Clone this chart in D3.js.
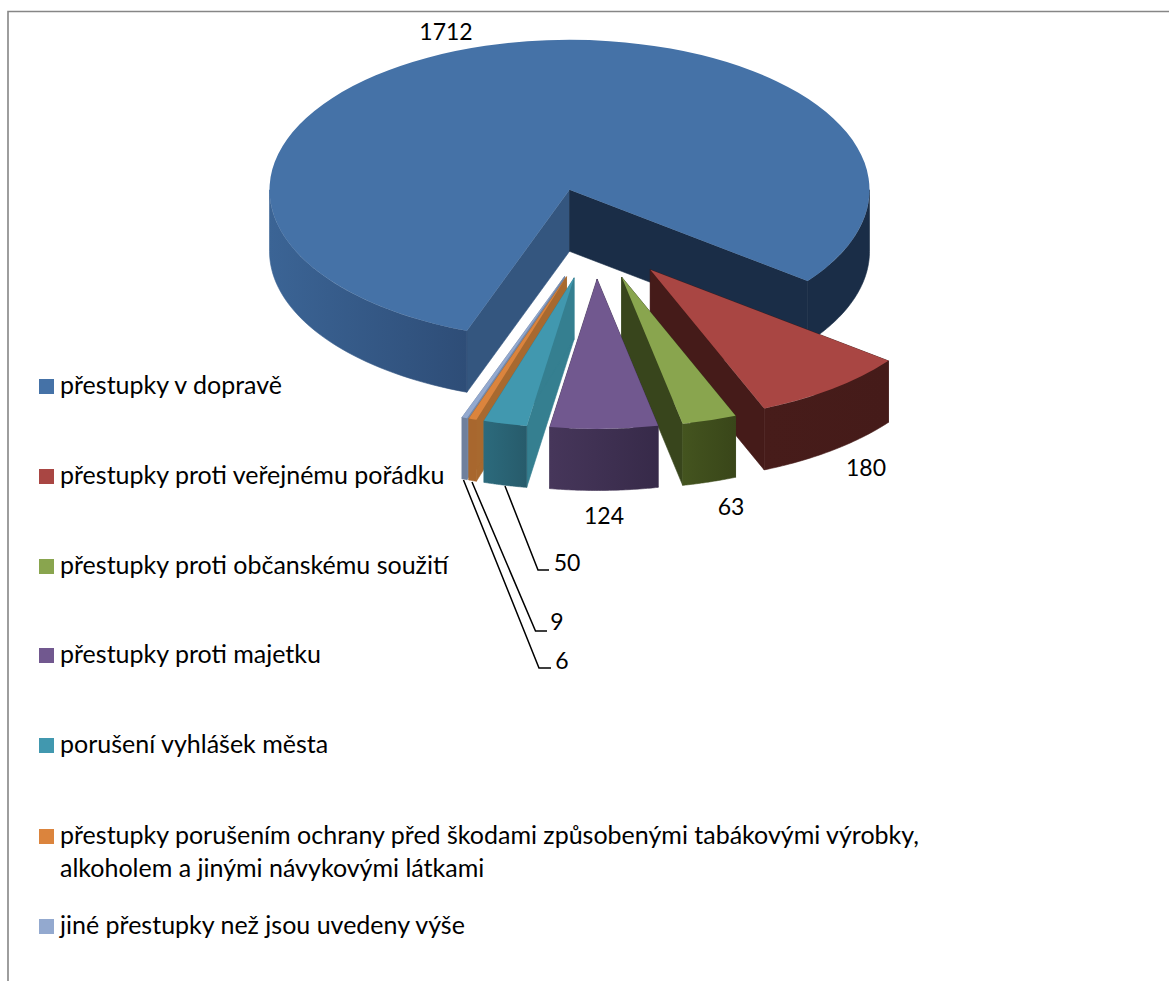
<!DOCTYPE html>
<html lang="cs">
<head>
<meta charset="utf-8">
<script src="https://cdn.jsdelivr.net/npm/d3@7"></script>
<style>
html,body{margin:0;padding:0;background:#fff;}
svg{display:block;}
text{font-family:Lato,"Open Sans",sans-serif;fill:#000;}
</style>
</head>
<body>
<svg id="chart" width="1169" height="981"></svg>
<script>
// --- data ---
const categories = [
  "přestupky v dopravě",
  "přestupky proti veřejnému pořádku",
  "přestupky proti občanskému soužití",
  "přestupky proti majetku",
  "porušení vyhlášek města",
  "přestupky porušením ochrany před škodami způsobenými tabákovými výrobky,\nalkoholem a jinými návykovými látkami",
  "jiné přestupky než jsou uvedeny výše"
];
const values = [1712, 180, 63, 124, 50, 9, 6];

// --- styles ---
const topColors   = ["#4572A7","#A94643","#89A54E","#71588F","#4198AF","#DB843D","#93A9CF"];
const rimFrom     = ["#3B6495","#471C1A","#44541F","#46365A","#2C6A7C","#A8672E","#6F809D"];
const rimTo       = ["#2E4D77","#451B19","#394619","#372A49","#275B6B","#A8672E","#6F809D"];
const wallColors  = ["#34567F","#451B19","#38451C","#372A49","#357F90","#A8692F","#7488A8"];
const wallBack    = "#1A2D47";   // wall of the big slice on its far side
const rimBack     = "#1A2D47";

// --- layout ---
const W = 1169, H = 981;
const cx = 595, cy = 233.5, R = 300, squash = 0.5, depth = 61.5, explode = 91;
const startAngle = 200 * Math.PI / 180;
const legendY = [394, 484, 574, 663, 753, 844, 934];
const labelAt = [[446,40],[866,476],[731,515],[604,524],[567,571],[557,630],[562,669]];
const leaders = {4:[[505,486],[538,570],[549,570]],5:[[472,482],[535.5,631],[547,631]],6:[[463.5,480],[539,668],[551,668]]};

const svg = d3.select("#chart");
const defs = svg.append("defs");

// frame
svg.append("path").attr("d", d3.line()([[8,H],[8,11.5],[W,11.5]]))
  .attr("fill","none").attr("stroke","#868686").attr("stroke-width",1.6);

const pie = d3.pie().sort(null).value(d=>d).startAngle(startAngle).endAngle(startAngle + 2*Math.PI);
const arcs = pie(values);
const arcGen = d3.arc().innerRadius(0).outerRadius(R);
const ell = (a,ox,oy,dy=0)=>[ox + R*Math.sin(a), oy - R*squash*Math.cos(a) + dy];
const line = d3.line();

// back to front drawing order
const order = [0,1,2,3,6,5,4];
order.forEach(i=>{
  const a = arcs[i], g = svg.append("g");
  const mid = (a.startAngle+a.endAngle)/2;
  const ox = cx + explode*Math.sin(mid), oy = cy - explode*squash*Math.cos(mid);

  // cut walls
  [a.startAngle,a.endAngle].forEach(t=>{
    const p = ell(t,ox,oy);
    const far = (i===0 && t===a.endAngle);
    g.append("path").attr("d", line([[ox,oy],p,[p[0],p[1]+depth],[ox,oy+depth]])+"Z")
      .attr("fill", far?wallBack:wallColors[i]).attr("stroke",far?wallBack:wallColors[i]).attr("stroke-width",.6);
  });

  // outer rim: only the part of the circle that faces the viewer
  const TAU = 2*Math.PI;
  [[Math.PI/2,3*Math.PI/2],[Math.PI/2+TAU,3*Math.PI/2+TAU]].forEach(([lo,hi],k)=>{
    const s = Math.max(a.startAngle,lo), e = Math.min(a.endAngle,hi);
    if(e<=s) return;
    const ts = d3.range(0,41).map(n=>s+(e-s)*n/40);
    const topPts = ts.map(t=>ell(t,ox,oy));
    const botPts = ts.map(t=>ell(t,ox,oy,depth)).reverse();
    const xs = topPts.map(p=>p[0]);
    let fill;
    if(i===0 && k===1){ fill = rimBack; }
    else {
      const id = `rim${i}_${k}`;
      const grad = defs.append("linearGradient").attr("id",id).attr("gradientUnits","userSpaceOnUse")
        .attr("x1",d3.min(xs)).attr("x2",d3.max(xs)).attr("y1",0).attr("y2",0);
      grad.append("stop").attr("offset",0).attr("stop-color",rimFrom[i]);
      grad.append("stop").attr("offset",1).attr("stop-color",rimTo[i]);
      fill = `url(#${id})`;
    }
    g.append("path").attr("d", line(topPts.concat(botPts))+"Z").attr("fill",fill)
      .attr("stroke",fill).attr("stroke-width",.6);
  });

  // top face
  g.append("path")
    .attr("transform",`translate(${ox},${oy}) scale(1,${squash})`)
    .attr("d",arcGen(a)).attr("fill",topColors[i]);
});

// leader lines
Object.values(leaders).forEach(pts=>{
  svg.append("path").attr("d",line(pts)).attr("fill","none").attr("stroke","#000").attr("stroke-width",1.5);
});

// data labels
svg.selectAll("text.val").data(values).join("text").attr("class","val")
  .attr("x",(d,i)=>labelAt[i][0]).attr("y",(d,i)=>labelAt[i][1])
  .attr("text-anchor","middle").attr("font-size",23).text(d=>d);

// legend
const leg = svg.selectAll("g.leg").data(categories).join("g").attr("class","leg")
  .attr("transform",(d,i)=>`translate(0,${legendY[i]})`);
leg.append("rect").attr("x",39).attr("y",-15).attr("width",15).attr("height",15).attr("fill",(d,i)=>topColors[i]);
leg.each(function(d){
  d.split("\n").forEach((t,k)=>{
    d3.select(this).append("text").attr("x",60).attr("y",k*33).attr("font-size",25).text(t);
  });
});
</script>
</body>
</html>
